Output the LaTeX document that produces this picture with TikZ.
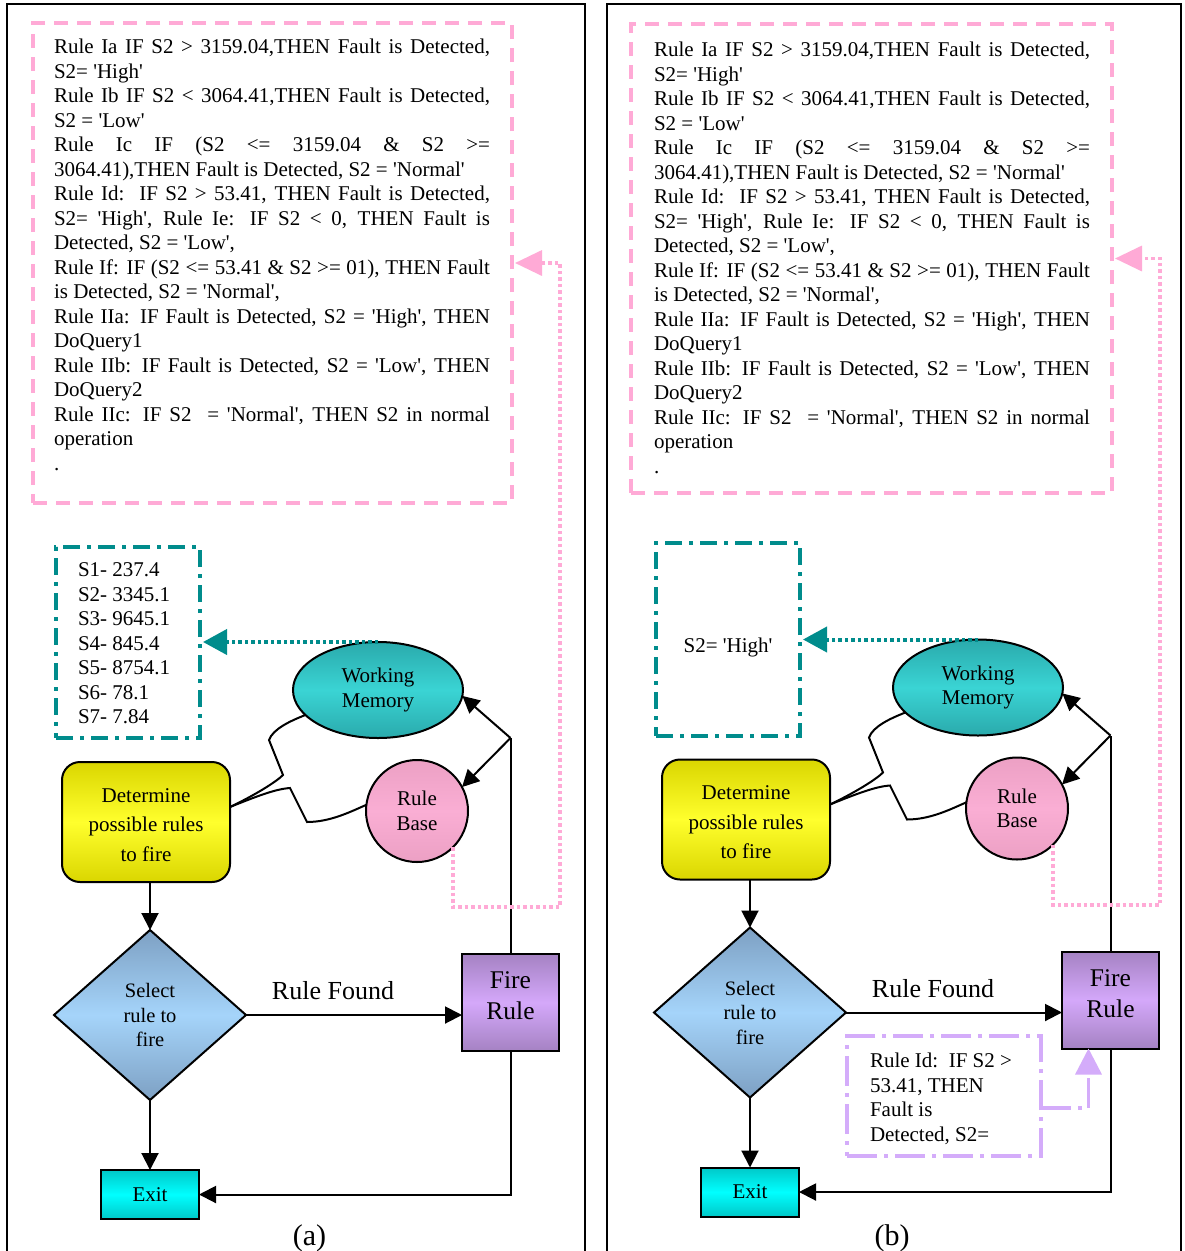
\documentclass[tikz,border=0pt]{standalone}
\usepackage{fontspec}
\setmainfont{Liberation Serif}[Ligatures=TeXOff]
\usetikzlibrary{shapes.geometric,arrows.meta,calc}

\definecolor{pinkc}{RGB}{255,170,214}
\definecolor{tealc}{RGB}{0,140,140}
\definecolor{lavc}{RGB}{212,172,250}
\definecolor{wmE}{RGB}{42,170,172}
\definecolor{wmM}{RGB}{58,212,212}
\definecolor{rbE}{RGB}{236,160,196}
\definecolor{rbM}{RGB}{250,174,212}
\definecolor{detE}{RGB}{218,214,0}
\definecolor{detM}{RGB}{255,255,45}
\definecolor{diaE}{RGB}{125,160,195}
\definecolor{diaM}{RGB}{165,212,250}
\definecolor{fireE}{RGB}{165,130,195}
\definecolor{fireM}{RGB}{212,168,250}
\definecolor{exitE}{RGB}{0,200,200}
\definecolor{exitM}{RGB}{0,255,255}

\newcommand\fsN{\fontsize{21}{24.5}\selectfont}
\newcommand\jl[1]{\makebox[436pt][s]{#1}}
\newcommand\rulelines{%
\jl{Rule Ia IF S2 > 3159.04,THEN Fault is Detected,}\\
S2= 'High'\\
\jl{Rule Ib IF S2 < 3064.41,THEN Fault is Detected,}\\
S2 = 'Low'\\
\jl{Rule Ic IF (S2 <= 3159.04 \& S2 >=}\\
3064.41),THEN Fault is Detected, S2 = 'Normal'\\
\jl{Rule Id:\ \ IF S2 > 53.41, THEN Fault is Detected,}\\
\jl{S2= 'High', Rule Ie: IF S2 < 0, THEN Fault is}\\
Detected, S2 = 'Low',\\
\jl{Rule If: IF (S2 <= 53.41 \& S2 >= 01), THEN Fault}\\
is Detected, S2 = 'Normal',\\
\jl{Rule IIa: IF Fault is Detected, S2 = 'High', THEN}\\
DoQuery1\\
\jl{Rule IIb: IF Fault is Detected, S2 = 'Low', THEN}\\
DoQuery2\\
\jl{Rule IIc: IF S2\ \ = 'Normal', THEN S2 in normal}\\
operation\\
.}

\tikzset{
  every node/.style={inner sep=0pt, outer sep=0pt},
  blk/.style={draw=black, line width=2pt},
  wire/.style={line width=2pt},
  conn/.style={line width=2pt, -{Triangle[length=17pt,width=17pt]}},
  detbox/.style={blk, rectangle, rounded corners=18pt, minimum width=168pt, minimum height=120pt,
    top color=detE, bottom color=detE, middle color=detM},
  seldia/.style={blk, diamond, minimum width=192pt, minimum height=170pt,
    top color=diaE, bottom color=diaE, middle color=diaM, align=center,
    font=\fontsize{20.5}{24.5}\selectfont},
  wmell/.style={blk, ellipse, minimum width=170pt, minimum height=96pt,
    top color=wmE, bottom color=wmE, middle color=wmM, align=center, font=\fsN},
  rbcirc/.style={blk, circle, minimum size=102pt,
    top color=rbE, bottom color=rbE, middle color=rbM, align=center, font=\fsN},
  firebox/.style={blk, rectangle, minimum width=97pt, minimum height=97pt,
    top color=fireE, bottom color=fireE, middle color=fireM},
  exitbox/.style={blk, rectangle, minimum width=98pt, minimum height=49pt,
    top color=exitE, bottom color=exitE, middle color=exitM, font=\fsN},
  pinkbox/.style={draw=pinkc, line width=4pt, dash pattern=on 14pt off 9pt, rectangle},
  tealbox/.style={draw=tealc, line width=4pt, dash pattern=on 17pt off 7pt on 4pt off 7pt, rectangle},
  lavbox/.style={draw=lavc, line width=3.5pt, dash pattern=on 30pt off 7pt on 4pt off 7pt, rectangle},
  pinkdot/.style={draw=pinkc, line width=3.5pt, dash pattern=on 3.5pt off 3pt,
    -{Triangle[length=27pt,width=25pt]}},
  tealdot/.style={draw=tealc, line width=4pt, dash pattern=on 3.5pt off 3pt,
    -{Triangle[length=24pt,width=25pt]}},
  lavdash/.style={draw=lavc, line width=3.5pt, dash pattern=on 30pt off 7pt on 4pt off 7pt,
    -{Triangle[length=26pt,width=26pt]}},
}

% flowchart shared by both panels; #1 is the name suffix
\newcommand\flowpanel[1]{%
  \node[detbox] (det#1) at (146,822) {};
  \node[align=center, font=\fontsize{21}{29.5}\selectfont] (dettxt#1) at (146,825)
    {Determine\\possible rules\\to fire};
  \node[seldia] (dia#1) at (150,1015) {Select\\rule to\\fire};
  \node[exitbox] (exit#1) at (150,1194.5) {Exit};
  \node[firebox] (fire#1) at (510.5,1002.5) {};
  \node[font=\fontsize{25.5}{31}\selectfont, align=center] (firetxt#1) at (510.5,996) {Fire\\Rule};
  \node[wmell] (wm#1) at (378,690) {Working\\Memory};
  \node[rbcirc] (rb#1) at (417,811) {Rule\\Base};
  \coordinate (junc#1) at (fire#1.north |- 0,738);
  \coordinate (tap#1) at ([yshift=15pt]det#1.east);
  \draw[conn] (det#1.south -| dia#1.north) -- (dia#1.north);
  \draw[conn] (dia#1.south) -- (exit#1.north);
  \draw[conn] (dia#1.east) -- (dia#1.east -| fire#1.west);
  \node[font=\fontsize{26}{30}\selectfont] (found#1) at (333,991) {Rule Found};
  \draw[conn] (fire#1.south) |- (exit#1.east);
  \draw[wire] (fire#1.north) -- (junc#1);
  \draw[conn] (junc#1) -- (wm#1.-4);
  \draw[conn] (junc#1) -- (rb#1.28);
  \draw[wire] (tap#1) .. controls (255,795) and (276,782) .. (283,775)
    -- (269,740) .. controls (273,729) and (290,721) .. (wm#1.199);
  \draw[wire] (tap#1) .. controls (255,797) and (275,789) .. (290,788)
    -- (307,822) .. controls (330,822) and (350,812) .. (rb#1.173);
}

\begin{document}
\begin{tikzpicture}[x=1pt, y=-1pt]
\useasboundingbox (0,0) rectangle (1185,1251);
\fill[white] (0,0) rectangle (1185,1251);

% panel frames
\draw[line width=2pt] (7,1251) -- (7,4) -- (585,4) -- (585,1251);
\draw[line width=2pt] (607,1251) -- (607,4) -- (1181,4) -- (1181,1251);

% ---------- panel (a) ----------
\node[pinkbox, minimum width=479pt, minimum height=480pt] (rulesa) at (272.5,263) {};
\node[anchor=north west, align=left, font=\fsN] (rulestxta) at (54,39) {\rulelines};
\node[tealbox, minimum width=144pt, minimum height=191pt] (lista) at (128,642.5) {};
\node[anchor=north west, align=left, font=\fsN] (listtxta) at (78,563)
  {S1- 237.4\\S2- 3345.1\\S3- 9645.1\\S4- 845.4\\S5- 8754.1\\S6- 78.1\\S7- 7.84};
\flowpanel{a}
\draw[tealdot] (wma.north) -- ([xshift=3pt]wma.north -| lista.east);
\draw[pinkdot] (rba.-45) |- (560,907) -- (560,263) -- ([xshift=3pt]rulesa.east);
\node[font=\fontsize{30}{34}\selectfont] (capa) at (309.5,1238) {(a)};

% ---------- panel (b) ----------
\node[pinkbox, minimum width=481pt, minimum height=469pt] (rulesb) at (871.5,258.5) {};
\node[anchor=north west, align=left, font=\fsN] (rulestxtb) at (654,42) {\rulelines};
\node[tealbox, minimum width=144pt, minimum height=193pt] (listb) at (728,639.5) {};
\node[font=\fsN] (listtxtb) at (728,647) {S2= 'High'};
\begin{scope}[shift={(600,-2.5)}]
  \flowpanel{b}
\end{scope}
\draw[tealdot] (wmb.north) -- ([xshift=3pt]wmb.north -| listb.east);
\draw[pinkdot] (rbb.-45) |- (1160,905) -- (1160,258.5) -- ([xshift=3pt]rulesb.east);
\node[lavbox, minimum width=194pt, minimum height=120pt] (lavb) at (944,1096) {};
\node[anchor=north west, align=left, font=\fsN] (lavtxtb) at (870,1053)
  {Rule Id:\ \ IF S2 >\\53.41, THEN\\Fault is\\Detected, S2=};
\draw[lavdash] ([yshift=-12pt]lavb.east) -| ([xshift=-22pt]fireb.south);
\node[font=\fontsize{30}{34}\selectfont] (capb) at (892,1238) {(b)};

\end{tikzpicture}
\end{document}
